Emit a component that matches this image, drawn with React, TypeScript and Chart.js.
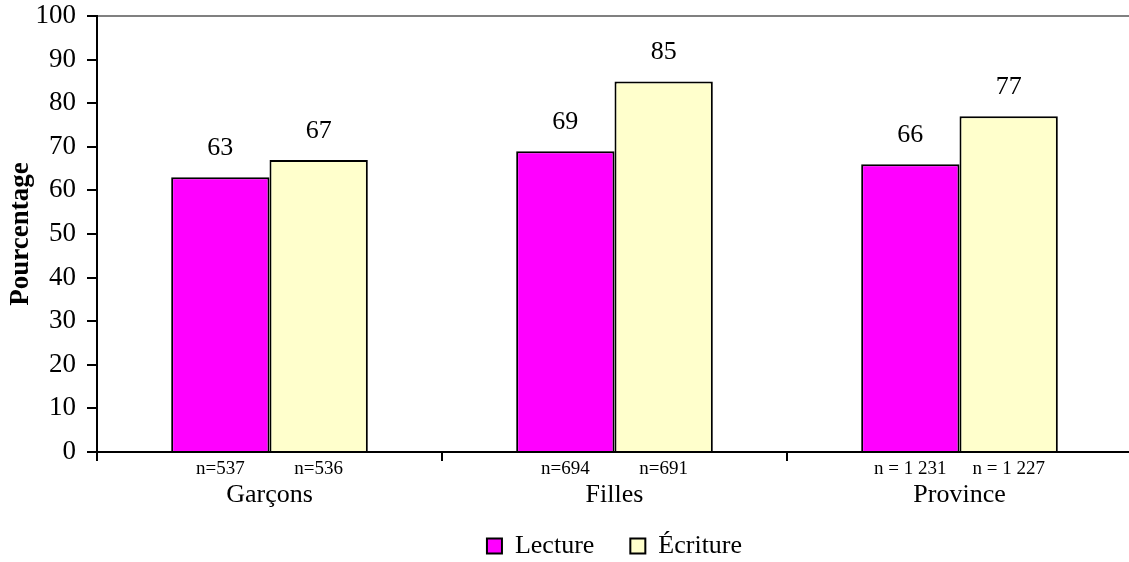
import React, { useEffect, useRef } from "react";
import { Chart, registerables } from "chart.js";

Chart.register(...registerables);

const categories = ["Garçons", "Filles", "Province"];
const lectureValues = [63, 69, 66];
const ecritureValues = [67, 85, 77];
const lectureN = ["n=537", "n=694", "n = 1 231"];
const ecritureN = ["n=536", "n=691", "n = 1 227"];
const seriesNames = ["Lecture", "Écriture"];
const yTitle = "Pourcentage";

const FONT = '"Liberation Serif", "Times New Roman", serif';

const valueLabels = {
  id: "valueLabels",
  afterDatasetsDraw(chart: any) {
    const ctx = chart.ctx;
    ctx.save();
    ctx.fillStyle = "#000";
    ctx.textAlign = "center";
    ctx.textBaseline = "middle";
    chart.data.datasets.forEach((ds: any, i: number) => {
      const meta = chart.getDatasetMeta(i);
      const nLabels = i === 0 ? lectureN : ecritureN;
      meta.data.forEach((el: any, j: number) => {
        ctx.font = `26px ${FONT}`;
        ctx.fillText(String(ds.data[j]), el.x, el.y - 29);
        ctx.font = `19px ${FONT}`;
        ctx.fillText(nLabels[j], el.x, chart.chartArea.bottom + 17);
      });
    });
    const xs = chart.scales.x;
    ctx.font = `26px ${FONT}`;
    ctx.textBaseline = "alphabetic";
    categories.forEach((c, j) => {
      ctx.fillText(c, xs.getPixelForValue(j), chart.chartArea.bottom + 50);
    });
    ctx.restore();
  },
};

export default function App() {
  const ref = useRef<HTMLCanvasElement>(null);
  useEffect(() => {
    if (!ref.current) return;
    Chart.defaults.font.family = FONT;
    Chart.defaults.color = "#000";
    const chart = new Chart(ref.current, {
      type: "bar",
      data: {
        labels: categories,
        datasets: [
          {
            label: seriesNames[0],
            data: lectureValues,
            backgroundColor: "#FF00FF",
            borderColor: "#000",
            borderWidth: 2,
            categoryPercentage: 0.57,
            barPercentage: 1,
          },
          {
            label: seriesNames[1],
            data: ecritureValues,
            backgroundColor: "#FFFFCC",
            borderColor: "#000",
            borderWidth: 2,
            categoryPercentage: 0.57,
            barPercentage: 1,
          },
        ],
      },
      options: {
        responsive: false,
        animation: false,
        devicePixelRatio: 1,
        layout: { padding: { top: 16, left: 0, right: 0, bottom: 0 } },
        plugins: {
          tooltip: { enabled: false },
          legend: {
            position: "bottom",
            fullSize: false,
            labels: {
              font: { size: 26, family: FONT },
              color: "#000",
              boxWidth: 15,
              boxHeight: 15,
              padding: 36,
            },
          },
        },
        scales: {
          x: {
            afterFit: (s: any) => {
              s.height = 45;
              s.paddingLeft = 0;
              s.paddingRight = 0;
            },
            grid: {
              display: true,
              drawOnChartArea: false,
              offset: true,
              tickLength: 9,
              tickColor: "#000",
              lineWidth: 2,
              color: "#000",
            },
            border: { color: "#000", width: 2 },
            ticks: {
              display: false,
            },
          },
          y: {
            min: 0,
            max: 100,
            afterFit: (s: any) => {
              s.width = 97;
              s.paddingTop = 0;
              s.paddingBottom = 0;
            },
            ticks: {
              stepSize: 10,
              font: { size: 27, family: FONT },
              color: "#000",
              padding: 11,
            },
            grid: {
              color: (c: any) =>
                c.tick && c.tick.value === 100 ? "#808080" : "rgba(0,0,0,0)",
              tickColor: "#000",
              tickLength: 10,
              lineWidth: 2,
            },
            border: { color: "#000", width: 2 },
            title: {
              display: true,
              text: yTitle,
              font: { size: 27, weight: "bold", family: FONT },
              color: "#000",
              padding: { top: 5, bottom: 0 },
            },
          },
        },
      },
      plugins: [valueLabels],
    });
    return () => chart.destroy();
  }, []);
  return (
    <div
      style={{
        position: "absolute",
        left: 0,
        top: 0,
        width: 1129,
        height: 562,
        overflow: "hidden",
        background: "#fff",
      }}
    >
      <canvas ref={ref} width={1132} height={569} style={{ display: "block" }} />
    </div>
  );
}
